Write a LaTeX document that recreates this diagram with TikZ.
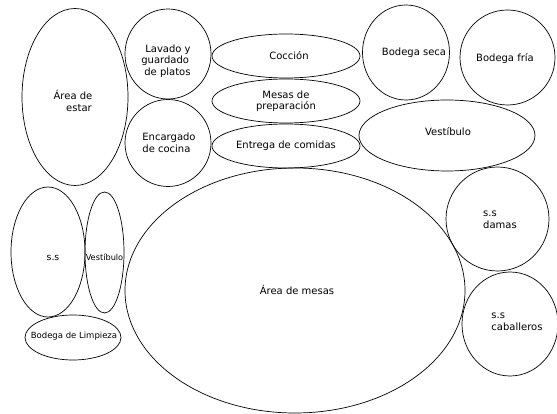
\documentclass[tikz,border=0pt]{standalone}
\usepackage{fontspec}
\setmainfont{DejaVu Sans}
\usetikzlibrary{shapes.geometric}
\begin{document}
\begin{tikzpicture}[x=1pt,y=-1pt,
  zone/.style={ellipse,draw,line width=0.7pt,inner sep=0pt},
  txt/.style={font=\fontsize{10}{11.5}\selectfont,align=center,inner sep=0pt},
  mid/.style={font=\fontsize{9.3}{11}\selectfont,align=center,inner sep=0pt},
  small/.style={font=\fontsize{8.2}{10}\selectfont,align=center,inner sep=0pt}]
\useasboundingbox (0,0) rectangle (557,414);
% zones
\node[zone,minimum width=106pt,minimum height=177pt] (estar) at (75,97) {};
\node[zone,minimum width=86pt,minimum height=90pt] (lav) at (168,54) {};
\node[zone,minimum width=86pt,minimum height=87pt] (enc) at (168,143) {};
\node[zone,minimum width=148pt,minimum height=44pt] (coc) at (286,56) {};
\node[zone,minimum width=148pt,minimum height=44pt] (mes) at (286,101) {};
\node[zone,minimum width=148pt,minimum height=44pt] (ent) at (286,146) {};
\node[zone,minimum width=87pt,minimum height=95pt] (bseca) at (406,52.5) {};
\node[zone,minimum width=95pt,minimum height=95pt] (bfria) at (507.5,57.5) {};
\node[zone,minimum width=176pt,minimum height=71pt] (vest) at (447,135.5) {};
\node[zone,minimum width=340pt,minimum height=245pt] (amesas) at (295,290.5) {};
\node[zone,minimum width=103pt,minimum height=104pt] (damas) at (497.5,219) {};
\node[zone,minimum width=96pt,minimum height=104pt] (cab) at (510,324) {};
\node[zone,minimum width=74pt,minimum height=130pt] (ss) at (48,252) {};
\node[zone,minimum width=39pt,minimum height=121pt] (vest2) at (104.5,252.5) {};
\node[zone,minimum width=96pt,minimum height=45pt] (blimp) at (73,337.5) {};
% labels
\node[txt] (testar) at (73,101) {Área de\\\hspace*{1.2em}estar};
\node[txt,align=left] (tlav) at (166,61) {\hspace*{0.4em}Lavado y\\guardado\\\hspace*{0.3em}de platos};
\node[txt,align=left] (tenc) at (169,143) {Encargado\\de cocina};
\node[txt] (tcoc) at (289,56) {Cocción};
\node[txt] (tmes) at (286,101) {Mesas de\\preparación};
\node[txt] (tent) at (286,146) {Entrega de comidas};
\node[txt] (tbseca) at (414,53) {Bodega seca};
\node[txt] (tbfria) at (505,59) {Bodega fría};
\node[txt] (tvest) at (448,132) {Vestíbulo};
\node[txt] (tmesas) at (297,290) {Área de mesas};
\node[txt,align=left] (tdamas) at (500,220) {s.s\\damas};
\node[txt,align=left] (tcab) at (517,322) {s.s\\caballeros};
\node[mid] (tss) at (53,258) {s.s};
\node[small] (tvest2) at (104.5,257) {Vestíbulo};
\node[small,font=\fontsize{8.5}{10}\selectfont] (tblimp) at (74,336) {Bodega de Limpieza};
\end{tikzpicture}
\end{document}
